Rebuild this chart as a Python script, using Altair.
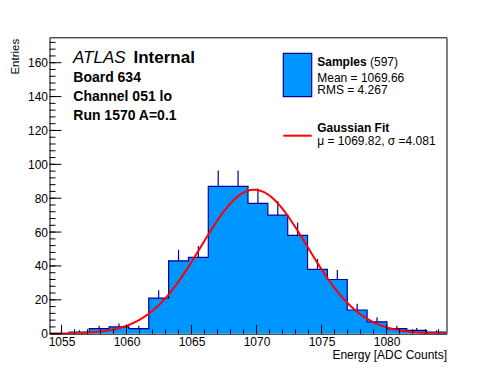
import altair as alt
import numpy as np
import pandas as pd

# ---------------- data ----------------
hist_min = 1054.08
hist_max = 1084.61
counts = [0, 1, 3, 4, 3, 21, 43, 45, 87, 87, 77, 70, 58, 38, 32, 14, 7, 3, 2, 1]

fit_mu = 1069.82
fit_sigma = 4.081
fit_amp = 85.0

x_major = [1055, 1060, 1065, 1070, 1075, 1080]
x_minor = list(range(1055, 1085))
y_major = [0, 20, 40, 60, 80, 100, 120, 140, 160]
y_minor = list(range(0, 176, 4))
y_max = 175

info_lines = ["Board 634", "Channel 051 lo", "Run 1570 A=0.1"]
legend_hist = ["Samples", "(597)", "Mean = 1069.66", "RMS = 4.267"]
legend_fit = ["Gaussian Fit", "\u03bc = 1069.82, \u03c3 =4.081"]

# ---------------- derived tables ----------------
n_bins = len(counts)
bw = (hist_max - hist_min) / n_bins
edges = hist_min + bw * np.arange(n_bins + 1)
step_df = pd.DataFrame({"x": edges, "y": counts + [counts[-1]]})
centers = hist_min + bw * (np.arange(n_bins) + 0.5)
cnt = np.array(counts, dtype=float)
err_df = pd.DataFrame({"x": centers, "lo": cnt, "hi": cnt + np.sqrt(cnt)})
err_df = err_df[err_df["lo"] > 0]
fx = np.linspace(hist_min, hist_max, 400)
fit_df = pd.DataFrame({"x": fx, "y": fit_amp * np.exp(-0.5 * ((fx - fit_mu) / fit_sigma) ** 2)})

W, H = 397, 296.4
FONT = "Liberation Sans"
FILL = "#0096ff"
EDGE = "#000099"

xs = alt.Scale(domain=[hist_min, hist_max], nice=False, zero=False)
ys = alt.Scale(domain=[0, y_max], nice=False, zero=True)

x_axis = alt.Axis(values=x_major, format="d", ticks=False, tickSize=0, domain=False, grid=False,
                  labelPadding=3, labelFontSize=12, labelFont=FONT, labelColor="black",
                  labelFlush=False, title="Energy [ADC Counts]", titleX=W, titleY=25,
                  titleAlign="right", titleBaseline="alphabetic", titleFont=FONT,
                  titleFontSize=12, titleFontWeight="normal", titleColor="black")
y_axis = alt.Axis(values=y_major, format="d", ticks=False, tickSize=0, domain=False, grid=False,
                  labelPadding=2, labelFontSize=12, labelFont=FONT, labelColor="black",
                  labelFlush=False, title="Entries", titleX=-31.5, titleY=1, titleAngle=270,
                  titleAlign="right", titleBaseline="alphabetic", titleFont=FONT,
                  titleFontSize=11.5, titleFontWeight="normal", titleColor="black")


def X(field):
    return alt.X(field, scale=xs, axis=x_axis, title="Energy [ADC Counts]")


def Y(field):
    return alt.Y(field, scale=ys, axis=y_axis, title="Entries")


area = alt.Chart(step_df).mark_area(interpolate="step-after", color=FILL, clip=True).encode(
    x=X("x:Q"), y=Y("y:Q"))
outline = alt.Chart(step_df).mark_line(interpolate="step-after", color=EDGE, strokeWidth=1.2, clip=True).encode(
    x=X("x:Q"), y=Y("y:Q"))
errs = alt.Chart(err_df).mark_rule(color=EDGE, strokeWidth=1.2).encode(
    x=X("x:Q"), y=Y("lo:Q"), y2="hi:Q")
fit = alt.Chart(fit_df).mark_line(color="#ff0000", strokeWidth=2, clip=True).encode(
    x=X("x:Q"), y=Y("y:Q"))


def xticks(vals, length):
    return alt.Chart(pd.DataFrame({"v": vals})).mark_rule(color="black", strokeWidth=1).encode(
        x=X("v:Q"), y=alt.value(H), y2=alt.value(H - length))


def yticks(vals, length):
    return alt.Chart(pd.DataFrame({"v": vals})).mark_rule(color="black", strokeWidth=1).encode(
        y=Y("v:Q"), x=alt.value(0), x2=alt.value(length))


def label(text, x, y, size, weight="normal", style="normal"):
    return alt.Chart(pd.DataFrame({"t": [text]})).mark_text(
        align="left", baseline="alphabetic", font=FONT, fontSize=size,
        fontWeight=weight, fontStyle=style, color="black").encode(
        x=alt.value(x), y=alt.value(y), text="t:N")


one = pd.DataFrame({"a": [0]})
leg_box = alt.Chart(one).mark_rect(fill=FILL, stroke=EDGE, strokeWidth=1.2).encode(
    x=alt.value(233.8), x2=alt.value(262.2), y=alt.value(16), y2=alt.value(59.4))
leg_line = alt.Chart(one).mark_rule(color="#ff0000", strokeWidth=2).encode(
    x=alt.value(233.8), x2=alt.value(262.2), y=alt.value(98.4))

layers = [area, outline, errs, fit,
          xticks(x_minor, 4.5), xticks(x_major, 8.9),
          yticks(y_minor, 6), yticks(y_major, 11.9),
          label("ATLAS", 23.5, 26, 17, style="italic"),
          label("Internal", 84, 26, 17, weight="bold"),
          label(info_lines[0], 23.8, 44.4, 14, weight="bold"),
          label(info_lines[1], 23.8, 63.7, 14, weight="bold"),
          label(info_lines[2], 23.8, 82.9, 14, weight="bold"),
          leg_box, leg_line,
          label(legend_hist[0], 267.8, 28.7, 12, weight="bold"),
          label(legend_hist[1], 320.5, 28.7, 12),
          label(legend_hist[2], 267.8, 44.4, 12),
          label(legend_hist[3], 267.8, 57, 12),
          label(legend_fit[0], 267.8, 95.0, 12, weight="bold"),
          label(legend_fit[1], 267.8, 108.0, 12)]

chart = alt.layer(*layers).properties(
    width=W, height=H,
    autosize=alt.AutoSizeParams(type="none"),
    padding={"left": 41.5, "top": 29.3, "right": 30, "bottom": 30},
    background="white",
).configure_view(stroke="black", strokeWidth=1)

chart.save("out.html", embed_options={"renderer": "svg", "actions": False})
